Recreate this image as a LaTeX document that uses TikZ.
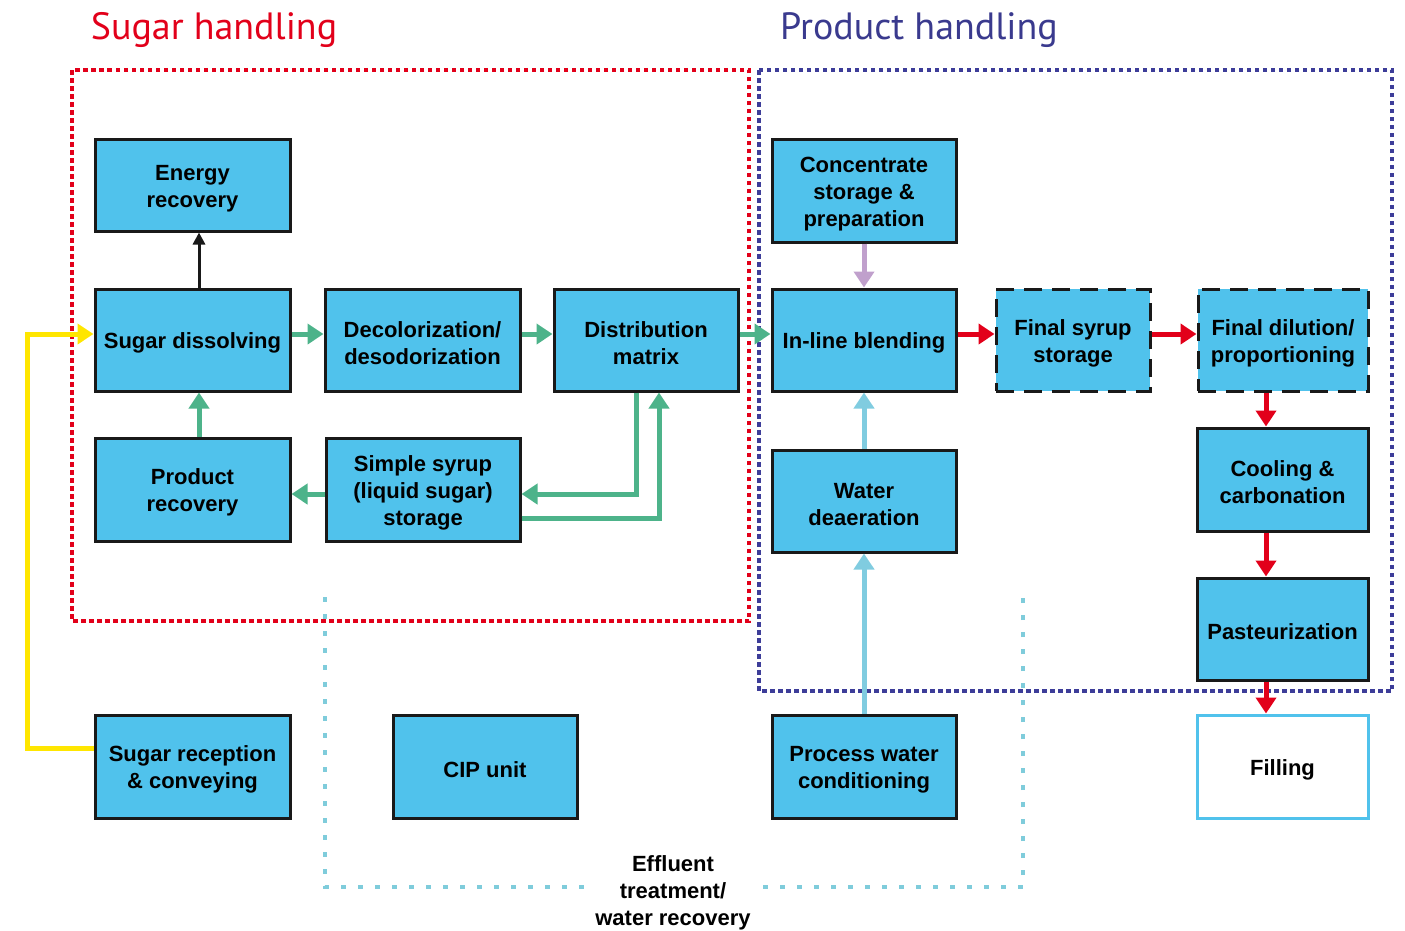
\documentclass[tikz,border=0pt]{standalone}
\usepackage{fontspec}
\setmainfont{Liberation Sans}
\newfontfamily\titlefont{PT Sans}
\usetikzlibrary{arrows.meta}
\definecolor{boxblue}{HTML}{50C2EC}
\definecolor{agreen}{HTML}{4DB38A}
\definecolor{ared}{HTML}{E2001A}
\definecolor{dblue}{HTML}{3D3D99}
\definecolor{dcyan}{HTML}{7FCCDB}
\definecolor{alilac}{HTML}{C0A0CC}
\definecolor{alblue}{HTML}{80CCE0}
\definecolor{ayellow}{HTML}{FFE600}
\definecolor{tblue}{HTML}{3A3A8E}
\tikzset{
  tx/.style={execute at begin node={\rule{0pt}{#1}}},
  box/.style={draw=black!90, line width=3pt, fill=boxblue, align=center, inner sep=0pt,
    font=\fontsize{22}{27}\selectfont\bfseries, tx=22pt},
  two/.style={tx=49pt},
  three/.style={tx=76pt},
  dbox/.style={box, dash pattern=on 18pt off 10pt},
  fbox/.style={box, draw=boxblue, fill=white},
  arr/.style={line width=5pt, -{Triangle[width=20pt,length=16pt]}},
  garrow/.style={arr, draw=agreen},
  rarrow/.style={arr, draw=ared},
  karrow/.style={line width=3pt, -{Triangle[width=12pt,length=12pt]}, draw=black!90},
  larrow/.style={arr, draw=alilac},
  barrow/.style={arr, draw=alblue},
  yarrow/.style={arr, draw=ayellow},
  reddot/.style={draw=ared, line width=4pt, dash pattern=on 4.5pt off 3.5pt},
  bluedot/.style={draw=dblue, line width=4pt, dash pattern=on 4.5pt off 3.5pt},
  cyandot/.style={draw=dcyan, line width=4pt, dash pattern=on 5pt off 12pt},
  title/.style={font=\titlefont\fontsize{38}{42}\selectfont}
}
\begin{document}
\begin{tikzpicture}[x=1pt,y=-1pt]
\useasboundingbox (0,0) rectangle (1405,930);
% titles
\node[title, text=ared] (t1) at (214,30) {Sugar handling};
\node[title, text=tblue] (t2) at (919,30) {Product handling};
% frames
\draw[reddot] (72,70) rectangle (749,621);
\draw[bluedot] (759,70) rectangle (1392,691);
\draw[cyandot] (325,597) -- (325,887) -- (585,887);
\draw[cyandot] (763,887) -- (1023,887) -- (1023,597);
% boxes
\node[box, two, minimum width=195pt, minimum height=92pt] (er) at (192.5,185) {Energy\\recovery};
\node[box, minimum width=195pt, minimum height=102pt] (sd) at (192.5,340) {Sugar dissolving};
\node[box, two, minimum width=195pt, minimum height=102pt] (dec) at (422.5,340) {Decolorization/\\desodorization};
\node[box, two, minimum width=184pt, minimum height=102pt] (dm) at (646,340) {Distribution\\matrix};
\node[box, two, minimum width=195pt, minimum height=103pt] (pr) at (192.5,489.5) {Product\\recovery};
\node[box, three, minimum width=194pt, minimum height=103pt] (ss) at (423,489.5) {Simple syrup\\(liquid sugar)\\storage};
\node[box, three, minimum width=184pt, minimum height=103pt] (cs) at (864,190.5) {Concentrate\\storage \&\\preparation};
\node[box, minimum width=184pt, minimum height=102pt] (il) at (864,340) {In-line blending};
\node[dbox, two, minimum width=154pt, minimum height=102pt] (fs) at (1073,340) {Final syrup\\storage};
\node[dbox, two, minimum width=170pt, minimum height=102pt] (fd) at (1283,340) {Final dilution/\\proportioning};
\node[box, two, minimum width=184pt, minimum height=102pt] (wd) at (864,501) {Water\\deaeration};
\node[box, two, minimum width=171pt, minimum height=103pt] (cc) at (1282.5,479.5) {Cooling \&\\carbonation};
\node[box, minimum width=171pt, minimum height=102pt] (pa) at (1282.5,629) {Pasteurization};
\node[box, two, minimum width=195pt, minimum height=103pt] (sr) at (192.5,766.5) {Sugar reception\\\& conveying};
\node[box, minimum width=184pt, minimum height=103pt] (cip) at (485,766.5) {CIP unit};
\node[box, two, minimum width=184pt, minimum height=103pt] (pw) at (864,766.5) {Process water\\conditioning};
\node[fbox, minimum width=171pt, minimum height=103pt] (fi) at (1282.5,766.5) {Filling};
\node[align=center, font=\fontsize{22}{27}\selectfont\bfseries] (ef) at (673,893) {Effluent\\treatment/\\water recovery};
% connectors
\draw[karrow] ([xshift=6.5pt]sd.north) -- ([xshift=6.5pt]er.south);
\draw[garrow] ([yshift=6pt]sd.east) -- ([yshift=6pt]dec.west);
\draw[garrow] ([yshift=6pt]dec.east) -- ([yshift=6pt]dm.west);
\draw[garrow] ([yshift=6pt]dm.east) -- ([yshift=6pt]il.west);
\draw[garrow] ([xshift=-10pt]dm.south) |- ([yshift=-4.5pt]ss.east);
\draw[garrow] ([yshift=-28.5pt]ss.east) -| ([xshift=13pt]dm.south);
\draw[garrow] ([yshift=-4.5pt]ss.west) -- ([yshift=-4.5pt]pr.east);
\draw[garrow] ([xshift=6.5pt]pr.north) -- ([xshift=6.5pt]sd.south);
\coordinate (yc) at (27,748);
\draw[yarrow] ([yshift=18.5pt]sr.west) -- (yc) |- ([yshift=6pt]sd.west);
\draw[larrow] (cs.south) -- (il.north);
\draw[barrow] (wd.north) -- (il.south);
\draw[barrow] (pw.north) -- (wd.south);
\draw[rarrow] ([yshift=6pt]il.east) -- ([yshift=6pt]fs.west);
\draw[rarrow] ([yshift=6pt]fs.east) -- ([yshift=6pt]fd.west);
\draw[rarrow] ([xshift=-17pt]fd.south) -- ([xshift=-16.5pt]cc.north);
\draw[rarrow] ([xshift=-16.5pt]cc.south) -- ([xshift=-16.5pt]pa.north);
\draw[rarrow] ([xshift=-16.5pt]pa.south) -- ([xshift=-16.5pt]fi.north);
\end{tikzpicture}
\end{document}
